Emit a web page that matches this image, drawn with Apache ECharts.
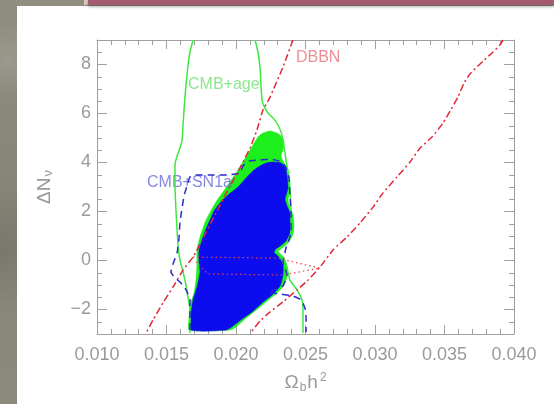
<!DOCTYPE html>
<html>
<head>
<meta charset="utf-8">
<script src="https://cdn.jsdelivr.net/npm/echarts@6/dist/echarts.min.js"></script>
<style>
  html, body { margin: 0; padding: 0; width: 554px; height: 404px; overflow: hidden; }
  body {
    background:
      radial-gradient(circle at 8px 60px, rgba(255,255,255,0.12), rgba(0,0,0,0) 40px),
      radial-gradient(circle at 6px 250px, rgba(0,0,0,0.10), rgba(0,0,0,0) 60px),
      linear-gradient(180deg, #8f8e80 0%, #858477 50%, #8c8a7c 100%);
  }
  #panel { position: absolute; left: 17px; top: 6px; right: 0; bottom: 0; background: #ffffff; }
  #bar { position: absolute; left: 88px; top: 0; width: 466px; height: 5px; background: #a35a6f;
         box-shadow: 0 2px 3px rgba(0,0,0,0.3); }
  #barEdge { position: absolute; left: 84px; top: 0; width: 6px; height: 5px;
             background: linear-gradient(135deg, #ddd3bb 0%, #c9bfa5 100%); }
  #chart { position: absolute; left: 0; top: 0; width: 554px; height: 404px; }
</style>
</head>
<body>
<div id="panel"></div>
<div id="barEdge"></div>
<div id="bar"></div>
<div id="chart"></div>
<script>
// Axis ranges and tick positions
const xMin = 0.010, xMax = 0.040, xStep = 0.005;
const yMin = -3, yMax = 9;
const yMajorTicks = [-2, 0, 2, 4, 6, 8];

// CMB+age outer contour (open line, cut by the frame at top and bottom)
const ageContourLeft = [
  [0.01691, 9.0], [0.01669, 8.51], [0.01655, 7.98], [0.01640, 7.16], [0.01626, 6.14],
  [0.01619, 5.53], [0.01612, 4.92], [0.01597, 4.59], [0.01576, 4.27], [0.01561, 3.90],
  [0.01561, 3.08], [0.01568, 2.06], [0.01576, 1.24], [0.01583, 0.63], [0.01597, 0.02],
  [0.01619, -0.47], [0.01640, -1.00], [0.01655, -1.53], [0.01669, -2.02], [0.01669, -2.96]
];
const ageContourRight = [
  [0.02137, 9.0], [0.02158, 8.51], [0.02173, 7.86], [0.02180, 7.16], [0.02187, 6.55],
  [0.02201, 6.31], [0.02230, 6.02], [0.02273, 5.78], [0.02302, 5.53], [0.02324, 5.24],
  [0.02338, 4.92], [0.02360, 4.10], [0.02381, 3.29], [0.02396, 2.06], [0.02396, 1.16],
  [0.02353, 0.63], [0.02288, 0.43], [0.02338, 0.14], [0.02367, -0.27], [0.02388, -0.80],
  [0.02439, -1.20], [0.02475, -1.61], [0.02482, -2.02], [0.02482, -2.96]
];

// CMB+age filled region
const ageFill = [
  [0.02158, 5.04], [0.02194, 5.20], [0.02245, 5.29], [0.02295, 5.20], [0.02331, 5.04],
  [0.02345, 4.80], [0.02338, 4.51], [0.02324, 4.27], [0.02338, 4.06], [0.02374, 3.73],
  [0.02388, 3.29], [0.02388, 2.80], [0.02374, 2.47], [0.02388, 2.18], [0.02410, 1.86],
  [0.02417, 1.45], [0.02410, 1.08], [0.02381, 0.76], [0.02331, 0.51], [0.02302, 0.35],
  [0.02345, 0.10], [0.02367, -0.27], [0.02367, -0.67], [0.02345, -1.00], [0.02295, -1.33],
  [0.02216, -1.69], [0.02137, -2.06], [0.02065, -2.39], [0.02000, -2.71], [0.01957, -2.84],
  [0.01662, -2.84], [0.01662, -2.35], [0.01669, -1.82], [0.01698, -1.33], [0.01712, -0.80],
  [0.01719, -0.18], [0.01719, 0.43], [0.01741, 0.96], [0.01784, 1.65], [0.01856, 2.39],
  [0.01942, 3.08], [0.02014, 3.69], [0.02058, 4.10], [0.02101, 4.51]
];

// CMB+SN1a filled region
const snFill = [
  [0.02129, 3.69], [0.02173, 3.86], [0.02216, 3.98], [0.02266, 4.02], [0.02324, 3.98],
  [0.02353, 3.82], [0.02367, 3.49], [0.02374, 2.96], [0.02353, 2.51], [0.02367, 2.22],
  [0.02388, 1.94], [0.02396, 1.49], [0.02388, 1.12], [0.02360, 0.80], [0.02309, 0.55],
  [0.02273, 0.35], [0.02309, 0.14], [0.02338, -0.18], [0.02338, -0.59], [0.02317, -1.04],
  [0.02259, -1.41], [0.02187, -1.73], [0.02115, -2.10], [0.02043, -2.39], [0.01978, -2.67],
  [0.01928, -2.84], [0.01676, -2.84], [0.01676, -2.22], [0.01691, -1.61], [0.01719, -1.08],
  [0.01741, -0.47], [0.01734, -0.06], [0.01734, 0.43], [0.01763, 0.96], [0.01784, 1.29],
  [0.01813, 1.65], [0.01842, 2.02], [0.01885, 2.35], [0.01942, 2.67], [0.02014, 3.00],
  [0.02072, 3.37]
];

// CMB+SN1a outer contour (dashed)
const snContour = [
  [0.01669, -2.84], [0.01669, -1.61], [0.01655, -1.37], [0.01633, -1.12], [0.01597, -0.88],
  [0.01561, -0.71], [0.01532, -0.47], [0.01547, -0.14], [0.01576, 0.31], [0.01590, 0.92],
  [0.01597, 1.57], [0.01612, 2.14], [0.01626, 2.63], [0.01647, 3.04], [0.01669, 3.41],
  [0.01712, 3.49], [0.01813, 3.49], [0.01935, 3.49], [0.02029, 3.57], [0.02050, 3.86],
  [0.02094, 4.06], [0.02173, 4.10], [0.02245, 4.14], [0.02309, 4.06], [0.02353, 3.86],
  [0.02381, 3.37], [0.02388, 2.67], [0.02396, 1.86], [0.02396, 1.16], [0.02360, 0.51],
  [0.02338, -0.06], [0.02367, -0.59], [0.02338, -1.04], [0.02273, -1.20], [0.02230, -1.29],
  [0.02317, -1.37], [0.02410, -1.45], [0.02468, -1.61], [0.02496, -1.94], [0.02504, -2.35],
  [0.02504, -2.92]
];

// DBBN bounds (dash-dot)
const bbnLeft = [
  [0.02410, 9.0], [0.02338, 7.90], [0.02245, 6.67], [0.02194, 6.14], [0.02151, 5.33],
  [0.02101, 4.59], [0.02029, 3.78], [0.01942, 2.88], [0.01849, 1.86], [0.01763, 0.92],
  [0.01691, 0.14], [0.01619, -0.39], [0.01547, -1.08], [0.01475, -1.73], [0.01403, -2.43],
  [0.01353, -2.96]
];
const bbnRight = [
  [0.03921, 9.0], [0.03899, 8.80], [0.03849, 8.51], [0.03777, 8.14], [0.03683, 7.61],
  [0.03640, 7.24], [0.03597, 6.67], [0.03540, 6.10], [0.03489, 5.61], [0.03410, 5.04],
  [0.03324, 4.59], [0.03252, 4.02], [0.03158, 3.41], [0.03058, 2.76], [0.02986, 2.18],
  [0.02892, 1.53], [0.02799, 0.96], [0.02698, 0.43], [0.02604, -0.27], [0.02511, -0.84],
  [0.02439, -1.20], [0.02338, -1.69], [0.02245, -2.10], [0.02173, -2.47], [0.02115, -2.88]
];
// Dotted wedge between the bounds
const bbnDotted = [
  [0.01691, 0.14], [0.02300, 0.10], [0.02353, 0.02], [0.02604, -0.31], [0.02338, -0.59],
  [0.01799, -0.55], [0.01712, -0.06]
];

// Curve labels
const curveLabels = ['DBBN', 'CMB+age', 'CMB+SN1a'];
const labelAnchors = [[0.02431, 8.27], [0.01655, 7.16], [0.01360, 3.16]];
const labelColors = ['#e8707a', '#6fe06f', '#6a6ad8'];

const FONT = 'Liberation Sans';
const frameColor = '#a0a0a0';
const tickTextColor = '#9a9a9a';

function xAxisDef(pos, showLabel) {
  return {
    type: 'value', position: pos, min: xMin, max: xMax, interval: xStep,
    axisLine: { show: true, onZero: false, lineStyle: { color: frameColor, width: 1 } },
    axisTick: { show: true, inside: true, length: 9, lineStyle: { color: frameColor } },
    minorTick: { show: true, splitNumber: 5, length: 5, lineStyle: { color: frameColor } },
    splitLine: { show: false },
    axisLabel: {
      show: showLabel, margin: 12, fontFamily: FONT, fontSize: 18, color: tickTextColor,
      formatter: v => v.toFixed(3)
    },
    name: showLabel ? '{a|Ω}{b|b}{a|h}{c|2}' : '',
    nameLocation: 'middle', nameGap: 38,
    nameTextStyle: {
      rich: {
        a: { fontFamily: FONT, fontSize: 19, color: '#999999' },
        b: { fontFamily: FONT, fontSize: 12, color: '#999999', padding: [10, 1, 0, 1] },
        c: { fontFamily: FONT, fontSize: 12, color: '#999999', padding: [0, 0, 10, 2] }
      }
    }
  };
}

function yMajorDef(pos, showLabel) {
  return {
    type: 'value', position: pos, min: yMin, max: yMax,
    axisLine: { show: true, onZero: false, lineStyle: { color: frameColor, width: 1 } },
    axisTick: { show: true, inside: true, length: 10, customValues: yMajorTicks, lineStyle: { color: frameColor } },
    splitLine: { show: false },
    axisLabel: {
      show: showLabel, margin: 6, customValues: yMajorTicks, fontFamily: FONT, fontSize: 18, color: tickTextColor,
      formatter: v => (v < 0 ? '\u2212' : '') + Math.abs(v)
    },
    name: showLabel ? '{a|ΔN}{b|ν}' : '',
    nameLocation: 'middle', nameGap: 42, nameRotate: 90,
    nameTextStyle: {
      rich: {
        a: { fontFamily: FONT, fontSize: 19, color: '#999999' },
        b: { fontFamily: FONT, fontSize: 13, color: '#999999', padding: [8, 0, 0, 1] }
      }
    }
  };
}

function yMinorDef(pos) {
  return {
    type: 'value', position: pos, min: yMin, max: yMax, interval: 0.5,
    axisLine: { show: false },
    axisTick: { show: true, inside: true, length: 5, lineStyle: { color: frameColor } },
    splitLine: { show: false },
    axisLabel: { show: false }
  };
}

function lineSeries(data, color, type, width) {
  return {
    type: 'line', data: data, xAxisIndex: 0, yAxisIndex: 0,
    showSymbol: false, symbol: 'none', silent: true, clip: true, smooth: 0.15,
    lineStyle: { color: color, width: width, type: type }
  };
}

function regionSeries(points, color) {
  return {
    type: 'custom', xAxisIndex: 0, yAxisIndex: 0, silent: true, clip: true,
    data: [points[0]],
    renderItem: function (params, api) {
      const pts = points.map(p => api.coord(p));
      return {
        type: 'polygon',
        shape: { points: pts, smooth: 0.2 },
        style: { fill: color, stroke: color, lineWidth: 0.5 }
      };
    }
  };
}

const chart = echarts.init(document.getElementById('chart'), null, { renderer: 'canvas' });

chart.setOption({
  backgroundColor: 'transparent',
  animation: false,
  grid: { left: 97, top: 40, width: 417, height: 294, containLabel: false },
  xAxis: [xAxisDef('bottom', true), xAxisDef('top', false)],
  yAxis: [yMajorDef('left', true), yMinorDef('left'), yMajorDef('right', false), yMinorDef('right')],
  series: [
    lineSeries(ageContourLeft, '#3ee83e', 'solid', 1.5),
    lineSeries(ageContourRight, '#3ee83e', 'solid', 1.5),
    lineSeries(snContour, '#2a2ad2', [7, 5], 1.5),
    lineSeries(bbnLeft, '#e0283a', [7, 3, 2, 3], 1.5),
    lineSeries(bbnRight, '#e0283a', [7, 3, 2, 3], 1.5),
    regionSeries(ageFill, '#1cef1c'),
    regionSeries(snFill, '#0c0cef'),
    Object.assign(lineSeries(bbnDotted, '#ec4050', [1.5, 3], 1.2), { smooth: false }),
    {
      type: 'scatter', xAxisIndex: 0, yAxisIndex: 0, silent: true, symbolSize: 0,
      data: curveLabels.map((name, i) => ({
        name: name, value: labelAnchors[i],
        label: { color: labelColors[i] }
      })),
      label: {
        show: true, formatter: '{b}', position: [0, 0], align: 'left', verticalAlign: 'middle',
        fontFamily: FONT, fontSize: 16
      }
    }
  ]
});
</script>
</body>
</html>
